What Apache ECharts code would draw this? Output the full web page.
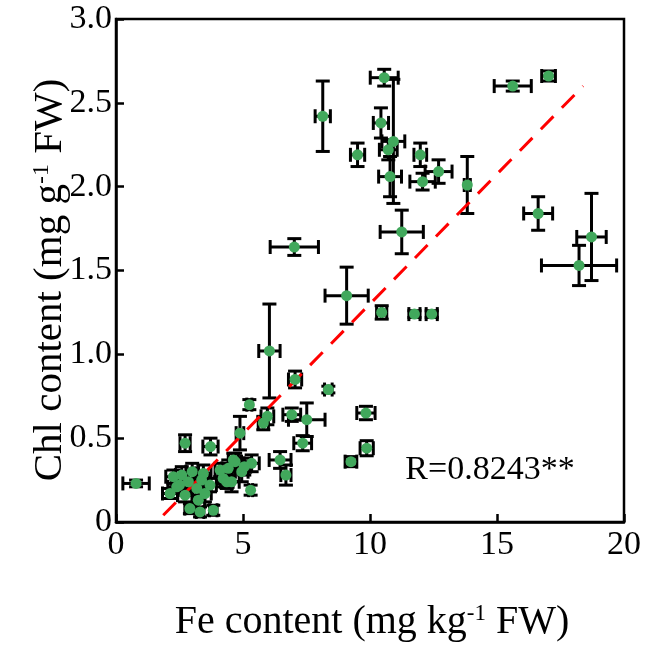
<!DOCTYPE html>
<html>
<head>
<meta charset="utf-8">
<script src="https://cdn.jsdelivr.net/npm/echarts@6/dist/echarts.min.js"></script>
<style>
  html, body { margin: 0; padding: 0; background: #fff; }
  #main { width: 645px; height: 650px; }
</style>
</head>
<body>
<div id="main"></div>
<script>
// Fe content (x), Chl content (y), x error, y error
var feValues = [8.14, 10.56, 10.92, 10.43, 10.72, 9.51, 10.79, 11.98, 12.07, 12.70,
    13.83, 11.25, 7.02, 15.62, 17.03, 16.62, 18.72, 18.23, 9.08, 10.46,
    11.75, 12.43, 6.04, 7.05, 8.36, 5.25, 5.96, 5.80, 6.92, 7.51,
    9.84, 7.35, 9.87, 9.25, 6.46, 6.69, 4.88, 5.30, 5.34, 4.95,
    4.69, 4.55, 0.79, 2.72, 3.72, 4.62, 4.42, 4.22, 4.36, 3.44,
    2.26, 2.59, 2.39, 2.13, 2.85, 3.18, 3.37, 3.24, 2.91, 3.31,
    2.72, 3.50, 3.83, 5.05, 2.50, 3.00, 4.10, 3.70];
var chlValues = [2.42, 2.65, 2.27, 2.38, 2.22, 2.19, 2.06, 2.19, 2.03, 2.09,
    2.01, 1.73, 1.64, 2.60, 2.66, 1.84, 1.70, 1.53, 1.35, 1.25,
    1.24, 1.24, 1.02, 0.85, 0.79, 0.70, 0.63, 0.59, 0.64, 0.61,
    0.65, 0.47, 0.44, 0.36, 0.37, 0.28, 0.53, 0.19, 0.35, 0.30,
    0.36, 0.24, 0.23, 0.47, 0.45, 0.37, 0.32, 0.26, 0.24, 0.29,
    0.27, 0.28, 0.21, 0.17, 0.24, 0.20, 0.25, 0.13, 0.08, 0.06,
    0.16, 0.17, 0.07, 0.33, 0.22, 0.30, 0.31, 0.22];
var feErr = [0.30, 0.55, 0.45, 0.30, 0.35, 0.28, 0.45, 0.25, 0.50, 0.53,
    0.12, 0.85, 0.95, 0.73, 0.27, 0.57, 0.58, 1.48, 0.85, 0.20,
    0.22, 0.22, 0.42, 0.26, 0.15, 0.10, 0.25, 0.20, 0.35, 0.72,
    0.36, 0.35, 0.26, 0.23, 0.43, 0.20, 0.15, 0.08, 0.30, 0.25,
    0.25, 0.30, 0.52, 0.20, 0.30, 0.20, 0.25, 0.20, 0.25, 0.30,
    0.30, 0.25, 0.35, 0.30, 0.30, 0.25, 0.30, 0.25, 0.20, 0.15,
    0.30, 0.25, 0.15, 0.25, 0.30, 0.25, 0.20, 0.25];
var chlErr = [0.21, 0.05, 0.37, 0.09, 0.06, 0.07, 0.12, 0.07, 0.05, 0.07,
    0.17, 0.13, 0.05, 0.03, 0.03, 0.10, 0.26, 0.12, 0.17, 0.04,
    0.02, 0.02, 0.28, 0.05, 0.02, 0.03, 0.05, 0.04, 0.04, 0.10,
    0.04, 0.045, 0.045, 0.03, 0.05, 0.06, 0.10, 0.03, 0.05, 0.06,
    0.05, 0.06, 0.02, 0.05, 0.05, 0.04, 0.05, 0.05, 0.04, 0.05,
    0.04, 0.05, 0.04, 0.03, 0.05, 0.04, 0.05, 0.05, 0.03, 0.03,
    0.04, 0.05, 0.03, 0.05, 0.04, 0.05, 0.04, 0.04];

// regression line end points
var fitX = [1.86, 18.39];
var fitY = [0.04, 2.60];

var xTicks = [0, 5, 10, 15, 20];
var yTicks = [0, 0.5, 1.0, 1.5, 2.0, 2.5, 3.0];

var FONT = '"Liberation Serif", "Times New Roman", serif';

var points = feValues.map(function (x, i) { return [x, chlValues[i]]; });
var errData = feValues.map(function (x, i) { return [x, chlValues[i], feErr[i], chlErr[i]]; });
var fitData = fitX.map(function (x, i) { return [x, fitY[i]]; });

var myChart = echarts.init(document.getElementById('main'));

function renderErr(params, api) {
    var x = api.value(0), y = api.value(1), ex = api.value(2), ey = api.value(3);
    var c = api.coord([x, y]);
    var l = api.coord([x - ex, y]);
    var r = api.coord([x + ex, y]);
    var t = api.coord([x, y + ey]);
    var b = api.coord([x, y - ey]);
    var cap = 7;
    var st = { stroke: '#000', lineWidth: 3 };
    function seg(x1, y1, x2, y2) {
        return { type: 'line', shape: { x1: x1, y1: y1, x2: x2, y2: y2 }, style: st };
    }
    return {
        type: 'group',
        children: [
            seg(l[0], c[1], r[0], c[1]),
            seg(c[0], t[1], c[0], b[1]),
            seg(l[0], c[1] - cap, l[0], c[1] + cap),
            seg(r[0], c[1] - cap, r[0], c[1] + cap),
            seg(c[0] - cap, t[1], c[0] + cap, t[1]),
            seg(c[0] - cap, b[1], c[0] + cap, b[1])
        ]
    };
}

var option = {
    animation: false,
    backgroundColor: '#fff',
    grid: {
        left: 116, right: 21, top: 19, bottom: 128,
        show: true, borderColor: '#000', borderWidth: 2.5
    },
    xAxis: {
        type: 'value', min: 0, max: 20, interval: 5,
        axisLine: { show: true, lineStyle: { color: '#000', width: 2.5 } },
        axisTick: { show: true, inside: true, length: 8, lineStyle: { color: '#000', width: 2.5 } },
        axisLabel: { color: '#000', fontFamily: FONT, fontSize: 34, margin: 6,
            formatter: function (v) { return xTicks.indexOf(v) >= 0 ? String(v) : ''; } },
        splitLine: { show: false }
    },
    yAxis: {
        type: 'value', min: 0, max: 3, interval: 0.5,
        axisLine: { show: true, lineStyle: { color: '#000', width: 2.5 } },
        axisTick: { show: true, inside: true, length: 8, lineStyle: { color: '#000', width: 2.5 } },
        axisLabel: { color: '#000', fontFamily: FONT, fontSize: 34, margin: 4,
            formatter: function (v) { return v === 0 ? '0' : v.toFixed(1); } },
        splitLine: { show: false }
    },
    graphic: [
        {
            type: 'text', x: 372, y: 622,
            style: {
                text: 'Fe content (mg kg{sup|-1} FW)',
                fontFamily: FONT, fontSize: 40, fill: '#000',
                align: 'center', verticalAlign: 'middle',
                rich: { sup: { fontFamily: FONT, fontSize: 23, verticalAlign: 'top', fill: '#000' } }
            }
        },
        {
            type: 'text', x: 50, y: 280, rotation: Math.PI / 2,
            style: {
                text: 'Chl content (mg g{sup|-1} FW)',
                fontFamily: FONT, fontSize: 41, fill: '#000',
                align: 'center', verticalAlign: 'middle',
                rich: { sup: { fontFamily: FONT, fontSize: 24, verticalAlign: 'top', fill: '#000' } }
            }
        },
        {
            type: 'text', x: 490, y: 470,
            style: {
                text: 'R=0.8243**', fontFamily: FONT, fontSize: 34, fill: '#000',
                align: 'center', verticalAlign: 'middle'
            }
        }
    ],
    series: [
        {
            type: 'custom', renderItem: renderErr, data: errData, z: 2,
            encode: { x: 0, y: 1 }
        },
        {
            type: 'line', data: fitData, symbol: 'none', z: 3,
            lineStyle: { color: '#ff0000', width: 3, type: [18, 12] }
        },
        {
            type: 'scatter', data: points, symbolSize: 11, z: 4,
            itemStyle: { color: '#41a85c', opacity: 1 }
        }
    ]
};
myChart.setOption(option);
</script>
</body>
</html>
